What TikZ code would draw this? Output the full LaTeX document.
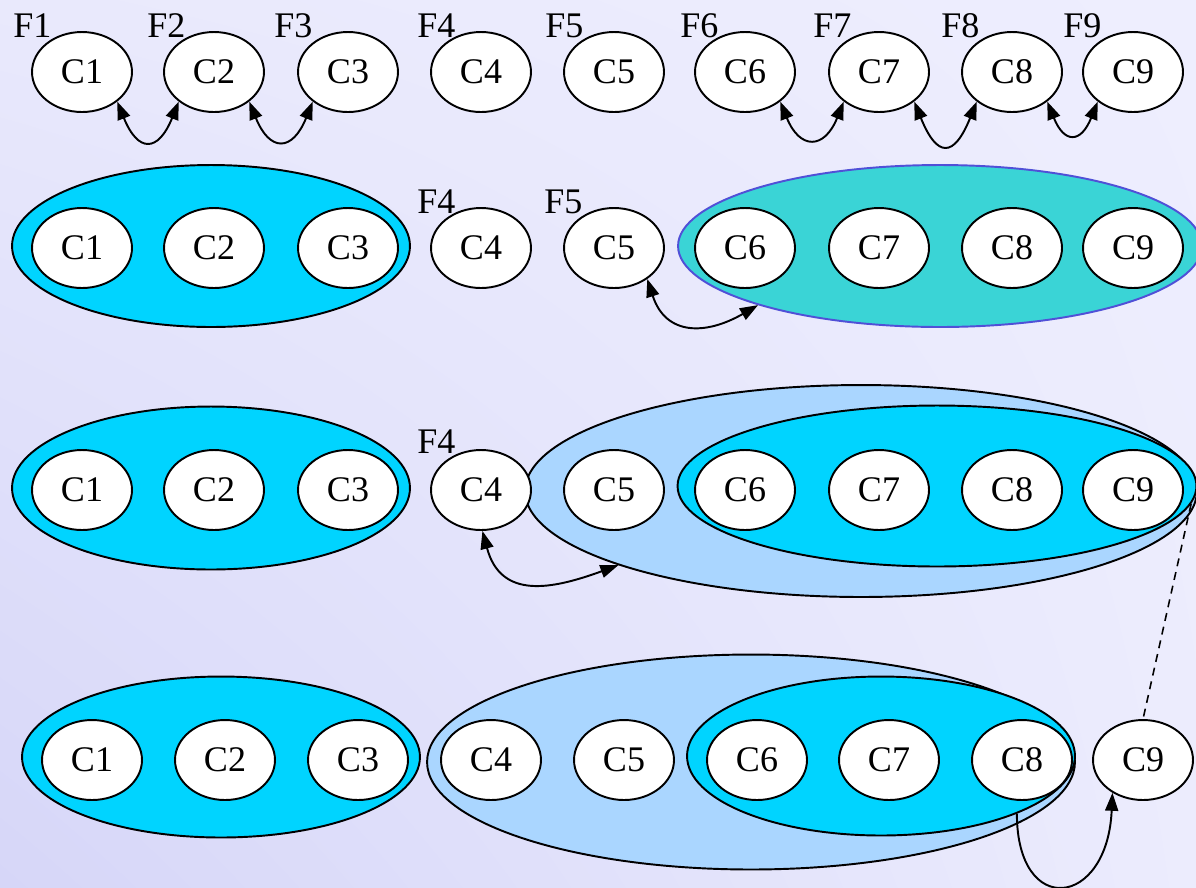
\documentclass[tikz,border=0pt]{standalone}
\usepackage{fontspec}
\setmainfont{Liberation Serif}
\usetikzlibrary{shapes.geometric,arrows.meta,shadings}
\definecolor{bgUL}{RGB}{233,233,252}
\definecolor{bgUR}{RGB}{238,238,254}
\definecolor{bgLL}{RGB}{214,214,248}
\definecolor{bgLR}{RGB}{236,236,253}
\definecolor{grpcyan}{RGB}{0,212,255}
\definecolor{grplight}{RGB}{170,214,255}
\definecolor{grpteal}{RGB}{58,212,214}
\definecolor{tealedge}{RGB}{80,80,215}
\tikzset{
  cell/.style={ellipse, draw, fill=white, line width=1.1pt, inner sep=0pt,
    minimum width=2cm, minimum height=1.6cm, font=\fontsize{20.5}{24}\selectfont},
  grp/.style={ellipse, draw, line width=1.1pt, inner sep=0pt},
  flab/.style={anchor=base west, inner sep=0pt, font=\fontsize{20.5}{24}\selectfont},
  link/.style={line width=1.1pt, {Triangle[length=0.36cm,width=0.26cm]}-{Triangle[length=0.36cm,width=0.26cm]}},
  onelink/.style={line width=1.1pt, -{Triangle[length=0.36cm,width=0.26cm]}},
  hint/.style={line width=0.9pt, dash pattern=on 0.16cm off 0.12cm}
}
\begin{document}
\begin{tikzpicture}[x=0.02cm, y=0.02cm]
  % page and background
  \useasboundingbox (0,0) rectangle (1196,-887);
  \shade[upper left=bgUL, upper right=bgUR, lower left=bgLL, lower right=bgLR]
    (0,0) rectangle (1196,-887);

  % ---------- row 1: nine separate cells ----------
  \foreach \i/\x/\fx in {1/82/13, 2/214/147, 3/348/274, 4/481/417, 5/614/545,
                         6/745/680, 7/879/813, 8/1012/941, 9/1133/1063} {
    \node[cell] (r1c\i) at (\x,-72) {C\i};
    \node[flab] (r1f\i) at (\fx,-37) {F\i};
  }
  \draw[link] (r1c1.-40) to[out=-68,in=-112,looseness=2.3] (r1c2.-140);
  \draw[link] (r1c2.-40) to[out=-68,in=-112,looseness=2.2] (r1c3.-140);
  \draw[link] (r1c6.-40) to[out=-68,in=-112,looseness=2.1] (r1c7.-140);
  \draw[link] (r1c7.-40) to[out=-68,in=-112,looseness=2.5] (r1c8.-140);
  \draw[link] (r1c8.-40) to[out=-68,in=-112,looseness=2.3] (r1c9.-140);

  % ---------- row 2 ----------
  \node[grp, fill=grpcyan, minimum width=7.96cm, minimum height=3.24cm] (r2ga) at (211,-246) {};
  \node[grp, fill=grpteal, draw=tealedge, minimum width=10.48cm, minimum height=3.24cm] (r2gb) at (940,-246) {};
  \foreach \i/\x in {1/82, 2/214, 3/348, 4/481, 5/614, 6/745, 7/879, 8/1012, 9/1133}
    \node[cell] (r2c\i) at (\x,-248) {C\i};
  \node[flab] (r2f4) at (417,-213) {F4};
  \node[flab] (r2f5) at (544,-213) {F5};
  \draw[link] (r2c5.-43) to[out=-72,in=-150,looseness=1.35] (r2gb.-162);

  % ---------- row 3 ----------
  \node[grp, fill=grpcyan, minimum width=7.96cm, minimum height=3.26cm] (r3ga) at (211,-488) {};
  \node[grp, fill=grplight, minimum width=13.44cm, minimum height=4.24cm] (r3gout) at (861,-491) {};
  \node[grp, fill=grpcyan, minimum width=10.38cm, minimum height=3.22cm] (r3gin) at (937,-486) {};
  \foreach \i/\x in {1/82, 2/214, 3/348, 4/481, 5/614, 6/745, 7/879, 8/1012, 9/1133}
    \node[cell] (r3c\i) at (\x,-490) {C\i};
  \node[flab] (r3f4) at (417,-453) {F4};
  \draw[link] (r3c4.-88) to[out=-75,in=-160,looseness=1.3] (r3gout.-163);

  % ---------- row 4 ----------
  \node[grp, fill=grpcyan, minimum width=7.96cm, minimum height=3.22cm] (r4ga) at (221,-757) {};
  \node[grp, fill=grplight, minimum width=12.96cm, minimum height=4.3cm] (r4gout) at (751,-762) {};
  \node[grp, fill=grpcyan, minimum width=7.76cm, minimum height=3.18cm] (r4gin) at (881,-756) {};
  \foreach \i/\x in {1/92, 2/225, 3/358, 4/491, 5/624, 6/757, 7/889, 8/1022, 9/1143}
    \node[cell] (r4c\i) at (\x,-760) {C\i};
  \draw[onelink] (r4gin.-23) .. controls +(0,-105) and +(-5,-115) .. (r4c9.-133);

  % link between the last two rows
  \draw[hint] (r3gin.-4) -- (r4c9.north);
\end{tikzpicture}
\end{document}
